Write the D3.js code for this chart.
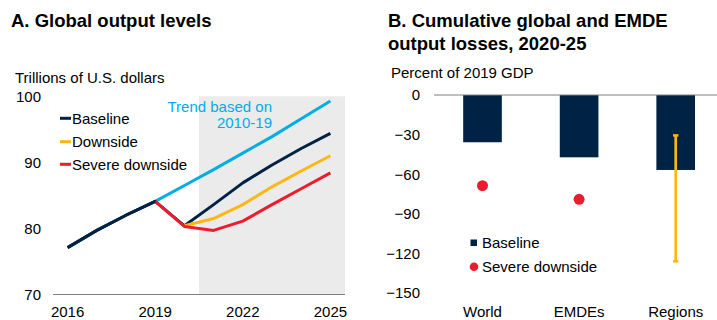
<!DOCTYPE html>
<html><head><meta charset="utf-8">
<script src="https://cdn.jsdelivr.net/npm/d3@7"></script>
<style>
body{margin:0;background:#fff;}
svg text{font-family:"Liberation Sans",Arial,sans-serif;fill:#000;}
</style></head>
<body><svg id="c" width="717" height="320"></svg>
<script>
// Panel A data
const years = [2016,2017,2018,2019,2020,2021,2022,2023,2024,2025];
const baseline = [77.1,79.7,82.0,84.1,80.4,83.6,86.9,89.6,92.1,94.4];
const trendYears = [2019,2020,2021,2022,2023,2024,2025];
const trend = [84.1,86.5,88.9,91.4,93.9,96.6,99.3];
const downYears = [2020,2021,2022,2023,2024,2025];
const downside = [80.4,81.5,83.6,86.3,88.7,91.0];
const severeYears = [2019,2020,2021,2022,2023,2024,2025];
const severe = [84.1,80.3,79.7,81.1,83.6,86.0,88.4];
const yTicksA = [70,80,90,100];
const xTickLabelsA = [2016,2019,2022,2025];
const shadeStart = 2021;

// Panel B data
const categories = ["World","EMDEs","Regions"];
const baselineLoss = [-35.8,-47.2,-56.8];
const severeLoss = [-68.7,-79.0,null];
const regionRange = [-30.6,-126.0];
const yTicksB = [0,-30,-60,-90,-120,-150];

const C = {navy:"#002345", yellow:"#FDB714", red:"#EB1C2D", blue:"#00ADE4", shade:"#EBEBEB", axis:"#7F7F7F"};
const svg = d3.select("#c");

// Titles
svg.append("text").attr("x",11).attr("y",27).attr("font-size","18.5px").attr("font-weight","bold").text("A. Global output levels");
svg.append("text").attr("x",388).attr("y",27).attr("font-size","18.5px").attr("font-weight","bold").text("B. Cumulative global and EMDE");
svg.append("text").attr("x",388).attr("y",50).attr("font-size","18.5px").attr("font-weight","bold").text("output losses, 2020-25");

// ---- Panel A ----
const xA = d3.scaleBand().domain(years).range([53,345]).padding(0);
const cx = d => xA(d) + xA.bandwidth()/2;
const yA = d3.scaleLinear().domain([70,100]).range([294.5,96.3]);

svg.append("text").attr("x",15).attr("y",83).attr("font-size","15px").text("Trillions of U.S. dollars");

svg.append("rect").attr("x",xA(shadeStart)).attr("y",yA(100))
  .attr("width",345 - xA(shadeStart)).attr("height",yA(70)-yA(100)).attr("fill",C.shade);

const gYA = svg.append("g").attr("transform","translate(41,0)")
  .call(d3.axisLeft(yA).tickValues(yTicksA).tickSize(0).tickPadding(0));
gYA.select(".domain").remove();
gYA.selectAll("text").attr("font-size","15px").attr("font-family","Liberation Sans, Arial, sans-serif").attr("fill","#000");

svg.append("line").attr("x1",53).attr("x2",345).attr("y1",yA(70)).attr("y2",yA(70)).attr("stroke",C.axis).attr("stroke-width",1);

const gXA = svg.append("g").attr("transform",`translate(0,${yA(70)})`)
  .call(d3.axisBottom(xA).tickValues(xTickLabelsA).tickSize(0).tickPadding(12));
gXA.select(".domain").remove();
gXA.selectAll("text").attr("font-size","15px").attr("font-family","Liberation Sans, Arial, sans-serif").attr("fill","#000").attr("dy","0.71em");

const line = d3.line().x(d=>cx(d[0])).y(d=>yA(d[1]));
const zip = (a,b)=>a.map((v,i)=>[v,b[i]]);
const series = [
  {d:zip(trendYears,trend), c:C.blue},
  {d:zip(years,baseline), c:C.navy},
  {d:zip(downYears,downside), c:C.yellow},
  {d:zip(severeYears,severe), c:C.red}
];
series.forEach(s=>{
  svg.append("path").attr("d",line(s.d)).attr("fill","none").attr("stroke",s.c).attr("stroke-width",3).attr("stroke-linejoin","round");
});
// redraw baseline pre-2020 on top of severe start
svg.append("path").attr("d",line(zip(years.slice(0,4),baseline.slice(0,4)))).attr("fill","none").attr("stroke",C.navy).attr("stroke-width",3);

// Legend A
const legA = [["Baseline",C.navy,118.3],["Downside",C.yellow,141.7],["Severe downside",C.red,164.3]];
legA.forEach(([t,c,y])=>{
  svg.append("line").attr("x1",60).attr("x2",71).attr("y1",y).attr("y2",y).attr("stroke",c).attr("stroke-width",3);
  svg.append("text").attr("x",72).attr("y",y).attr("dy","0.35em").attr("font-size","15px").text(t);
});
svg.append("text").attr("x",272).attr("y",111.7).attr("text-anchor","end").attr("font-size","15px").style("fill",C.blue).text("Trend based on");
svg.append("text").attr("x",272).attr("y",128.3).attr("text-anchor","end").attr("font-size","15px").style("fill",C.blue).text("2010-19");

// ---- Panel B ----
const xB = d3.scaleBand().domain(categories).range([434.2,724]).padding(0);
const cxB = d => xB(d) + xB.bandwidth()/2;
const yB = d3.scaleLinear().domain([-150,0]).range([293,95]);
const barW = xB.bandwidth()*0.4;

svg.append("text").attr("x",391).attr("y",78).attr("font-size","15px").text("Percent of 2019 GDP");

const gYB = svg.append("g").attr("transform","translate(420,0)")
  .call(d3.axisLeft(yB).tickValues(yTicksB).tickSize(0).tickPadding(0));
gYB.select(".domain").remove();
gYB.selectAll("text").attr("font-size","15px").attr("font-family","Liberation Sans, Arial, sans-serif").attr("fill","#000");

svg.selectAll(".barB").data(categories).enter().append("rect")
  .attr("x",d=>cxB(d)-barW/2).attr("y",yB(0))
  .attr("width",barW).attr("height",(d,i)=>yB(baselineLoss[i])-yB(0)).attr("fill",C.navy);

svg.append("line").attr("x1",434).attr("x2",724).attr("y1",yB(0)).attr("y2",yB(0)).attr("stroke",C.axis).attr("stroke-width",1);

categories.forEach((c,i)=>{
  if(severeLoss[i]!==null) svg.append("circle").attr("cx",cxB(c)).attr("cy",yB(severeLoss[i])).attr("r",5.5).attr("fill",C.red);
});
// Regions range
const rx = cxB("Regions");
svg.append("line").attr("x1",rx).attr("x2",rx).attr("y1",yB(regionRange[0])).attr("y2",yB(regionRange[1])).attr("stroke",C.yellow).attr("stroke-width",2.7);
regionRange.forEach(v=>svg.append("line").attr("x1",rx-2.7).attr("x2",rx+2.7).attr("y1",yB(v)).attr("y2",yB(v)).attr("stroke",C.yellow).attr("stroke-width",2.5));

const gXB = svg.append("g").attr("transform",`translate(0,${yB(-150)})`)
  .call(d3.axisBottom(xB).tickSize(0).tickPadding(13.5));
gXB.select(".domain").remove();
gXB.selectAll("text").attr("font-size","15px").attr("font-family","Liberation Sans, Arial, sans-serif").attr("fill","#000").attr("dy","0.71em");

// Legend B
svg.append("rect").attr("x",470.5).attr("y",239.5).attr("width",6.5).attr("height",6.5).attr("fill",C.navy);
svg.append("text").attr("x",482).attr("y",247.7).attr("font-size","15px").text("Baseline");
svg.append("circle").attr("cx",474).attr("cy",266.7).attr("r",4.3).attr("fill",C.red);
svg.append("text").attr("x",482).attr("y",271.7).attr("font-size","15px").text("Severe downside");
</script></body></html>
